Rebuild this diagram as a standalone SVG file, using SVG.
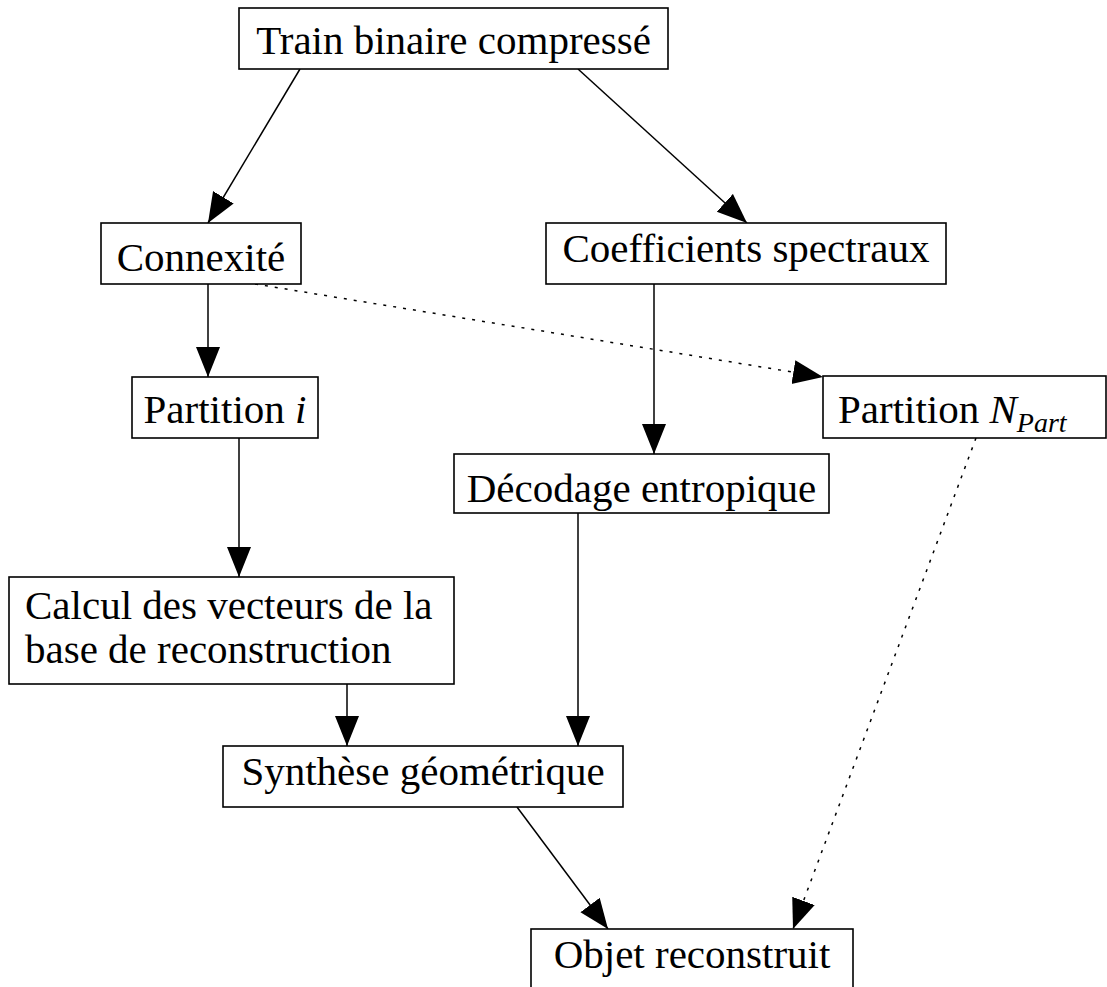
<svg xmlns="http://www.w3.org/2000/svg" width="1107" height="987" viewBox="0 0 1107 987">
<defs>
<style>
.box{fill:#fff;stroke:#000;stroke-width:1.6}
.t{font-family:"Liberation Serif","Times New Roman",serif;font-size:41px;fill:#000}
.it{font-style:italic}
.e{fill:none;stroke:#000;stroke-width:1.5}
.d{fill:none;stroke:#000;stroke-width:1.5;stroke-dasharray:3 7}
</style>
<marker id="ah" markerUnits="userSpaceOnUse" markerWidth="32" markerHeight="26" refX="30" refY="12" orient="auto" viewBox="0 0 32 26">
<path d="M0,0 L30,12 L0,24 z" fill="#000"/>
</marker>
</defs>
<rect width="1107" height="987" fill="#fff"/>
<g id="connectors">
<line class="e" x1="300" y1="69" x2="208" y2="223" marker-end="url(#ah)"/>
<line class="e" x1="578" y1="69" x2="747" y2="223" marker-end="url(#ah)"/>
<line class="e" x1="208" y1="284" x2="208" y2="377" marker-end="url(#ah)"/>
<line class="d" x1="255" y1="284" x2="823" y2="377" marker-end="url(#ah)"/>
<line class="e" x1="654" y1="284" x2="654" y2="454" marker-end="url(#ah)"/>
<line class="e" x1="239" y1="438" x2="239" y2="577" marker-end="url(#ah)"/>
<line class="e" x1="347" y1="684" x2="347" y2="746" marker-end="url(#ah)"/>
<line class="e" x1="578" y1="513" x2="578" y2="746" marker-end="url(#ah)"/>
<line class="e" x1="517" y1="807" x2="608" y2="929" marker-end="url(#ah)"/>
<line class="d" x1="976" y1="438" x2="793" y2="929" marker-end="url(#ah)"/>
</g>
<g id="n-train">
<rect class="box" x="239" y="8" width="429" height="61"/>
<text class="t" x="453.5" y="54" text-anchor="middle">Train binaire compressé</text>
</g>
<g id="n-connexite">
<rect class="box" x="101" y="223" width="200" height="61"/>
<text class="t" x="201" y="271" text-anchor="middle">Connexité</text>
</g>
<g id="n-coeff">
<rect class="box" x="546" y="223" width="400" height="61"/>
<text class="t" x="746" y="262" text-anchor="middle">Coefficients spectraux</text>
</g>
<g id="n-partition-i">
<rect class="box" x="132" y="377" width="186" height="61"/>
<text class="t" x="225" y="423" text-anchor="middle">Partition <tspan class="it">i</tspan></text>
</g>
<g id="n-partition-n">
<rect class="box" x="823" y="376" width="283" height="62"/>
<text class="t" x="838" y="423">Partition <tspan class="it">N</tspan><tspan class="it" font-size="28" dy="9">Part</tspan></text>
</g>
<g id="n-decodage">
<rect class="box" x="454" y="454" width="375" height="59"/>
<text class="t" x="641.5" y="502" text-anchor="middle">Décodage entropique</text>
</g>
<g id="n-calcul">
<rect class="box" x="9" y="577" width="445" height="107"/>
<text class="t" x="25" y="619" font-size="40">Calcul des vecteurs de la</text>
<text class="t" x="25" y="663" font-size="40">base de reconstruction</text>
</g>
<g id="n-synthese">
<rect class="box" x="223" y="746" width="400" height="61"/>
<text class="t" x="423" y="785" text-anchor="middle">Synthèse géométrique</text>
</g>
<g id="n-objet">
<rect class="box" x="531" y="929" width="322" height="80"/>
<text class="t" x="692" y="968" text-anchor="middle">Objet reconstruit</text>
</g>
</svg>
